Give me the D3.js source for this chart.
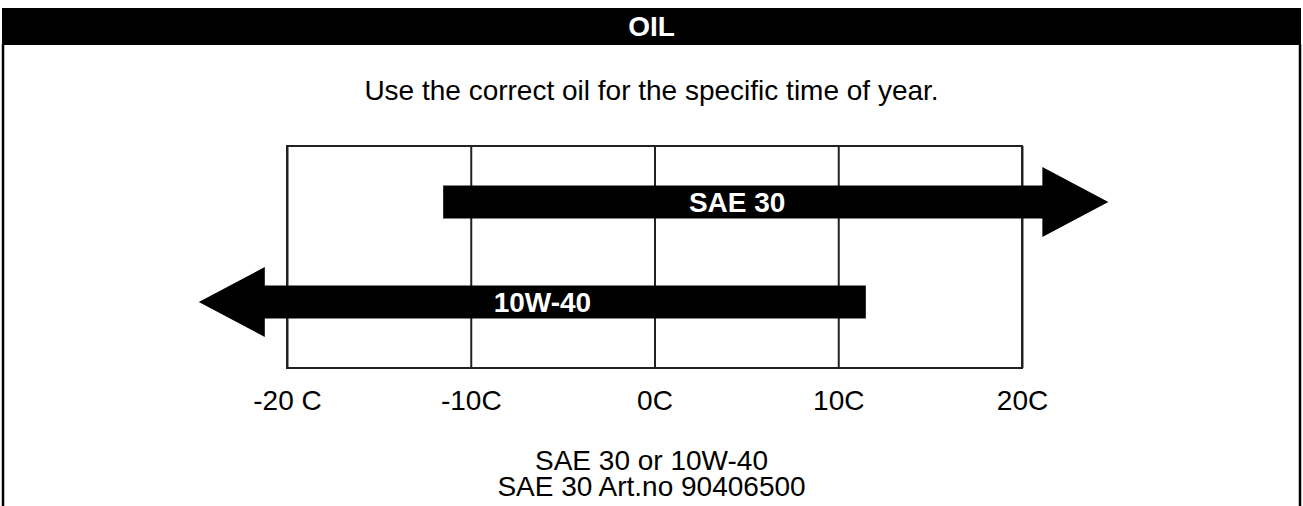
<!DOCTYPE html>
<html>
<head>
<meta charset="utf-8">
<style type="text/css">

  body{
    margin: 0;
    background: white;
    font-family: 'Liberation Sans', Arial, sans-serif;
  }

  .tick text, .note, .subtitle{
    fill: black;
  }

</style>
</head>
<body>

<script src="https://cdn.jsdelivr.net/npm/d3@7/dist/d3.min.js" type="text/javascript"></script>

<div id="chart"></div>

<script>

// temperature axis
var tickValues = [-20, -10, 0, 10, 20];
var tickLabels = ["-20 C", "-10C", "0C", "10C", "20C"];

// oil grades, range of use in C (arrow ends run past the scale)
var oils = ["SAE 30", "10W-40"];
var lowTemp = [-11.5, -24.8];
var highTemp = [24.7, 11.5];
var arrowSide = ["right", "left"];
var labelTemp = [4.5, -6.1];

var title = "OIL";
var subtitle = "Use the correct oil for the specific time of year.";
var notes = ["SAE 30 or 10W-40", "SAE 30 Art.no 90406500"];

var width = 1303;
var height = 506;

var plotLeft = 287, plotRight = 1022;
var plotTop = 146, plotBottom = 368;

var barHeight = 33;
var headLength = 66;
var headHeight = 70;

var svg = d3.select("#chart")
  .append("svg")
  .attr("width", width)
  .attr("height", height);

// header strip and panel frame
svg.append("rect")
  .attr("x", 2)
  .attr("y", 8)
  .attr("width", width - 4)
  .attr("height", 37)
  .attr("fill", "black");

svg.append("text")
  .attr("x", width / 2)
  .attr("y", 36)
  .attr("text-anchor", "middle")
  .attr("fill", "white")
  .style("font-size", "28px")
  .style("font-weight", "bold")
  .text(title);

svg.append("path")
  .attr("d", "M3,44V" + height + "M1300,44V" + height)
  .attr("stroke", "black")
  .attr("stroke-width", 2.5)
  .attr("fill", "none");

svg.append("text")
  .attr("class", "subtitle")
  .attr("x", width / 2)
  .attr("y", 100)
  .attr("text-anchor", "middle")
  .style("font-size", "28px")
  .text(subtitle);

var x = d3.scaleLinear()
  .domain(d3.extent(tickValues))
  .range([plotLeft, plotRight]);

var y = d3.scalePoint()
  .domain(oils)
  .range([plotTop, plotBottom - 10])
  .padding(0.56);

// box and grid lines
svg.append("rect")
  .attr("x", plotLeft)
  .attr("y", plotTop)
  .attr("width", plotRight - plotLeft)
  .attr("height", plotBottom - plotTop)
  .attr("fill", "none")
  .attr("stroke", "#222")
  .attr("stroke-width", 2);

var axis = d3.axisBottom(x)
  .tickValues(tickValues)
  .tickFormat(function(d, i) { return tickLabels[i]; })
  .tickSizeInner(-(plotBottom - plotTop))
  .tickSizeOuter(0)
  .tickPadding(22);

var gAxis = svg.append("g")
  .attr("transform", "translate(0," + plotBottom + ")")
  .call(axis);

gAxis.select(".domain").remove();

gAxis.selectAll(".tick line")
  .attr("stroke", "#222")
  .attr("stroke-width", 2);

gAxis.selectAll(".tick text")
  .attr("font-family", null)
  .attr("font-size", null)
  .style("font-size", "28px");

// arrows
function arrowPath(i) {
  var p = d3.path();
  var cy = y(oils[i]);
  var top = cy - barHeight / 2, bot = cy + barHeight / 2;
  var tip, base, end;
  if (arrowSide[i] == "right") {
    tip = x(highTemp[i]); base = tip - headLength; end = x(lowTemp[i]);
  } else {
    tip = x(lowTemp[i]); base = tip + headLength; end = x(highTemp[i]);
  }
  p.moveTo(end, top);
  p.lineTo(base, top);
  p.lineTo(base, cy - headHeight / 2);
  p.lineTo(tip, cy);
  p.lineTo(base, cy + headHeight / 2);
  p.lineTo(base, bot);
  p.lineTo(end, bot);
  p.closePath();
  return p.toString();
}

var arrows = svg.selectAll(".arrow")
  .data(oils)
  .enter()
  .append("g")
  .attr("class", "arrow");

arrows.append("path")
  .attr("d", function(d, i) { return arrowPath(i); })
  .attr("fill", "black");

arrows.append("text")
  .attr("x", function(d, i) { return x(labelTemp[i]); })
  .attr("y", function(d) { return y(d); })
  .attr("dy", "0.36em")
  .attr("text-anchor", "middle")
  .attr("fill", "white")
  .style("font-size", "28px")
  .style("font-weight", "bold")
  .text(function(d) { return d; });

svg.selectAll(".note")
  .data(notes)
  .enter()
  .append("text")
  .attr("class", "note")
  .attr("x", width / 2)
  .attr("y", function(d, i) { return 470 + i * 26; })
  .attr("text-anchor", "middle")
  .style("font-size", "28px")
  .text(function(d) { return d; });

</script>

</body>
</html>
